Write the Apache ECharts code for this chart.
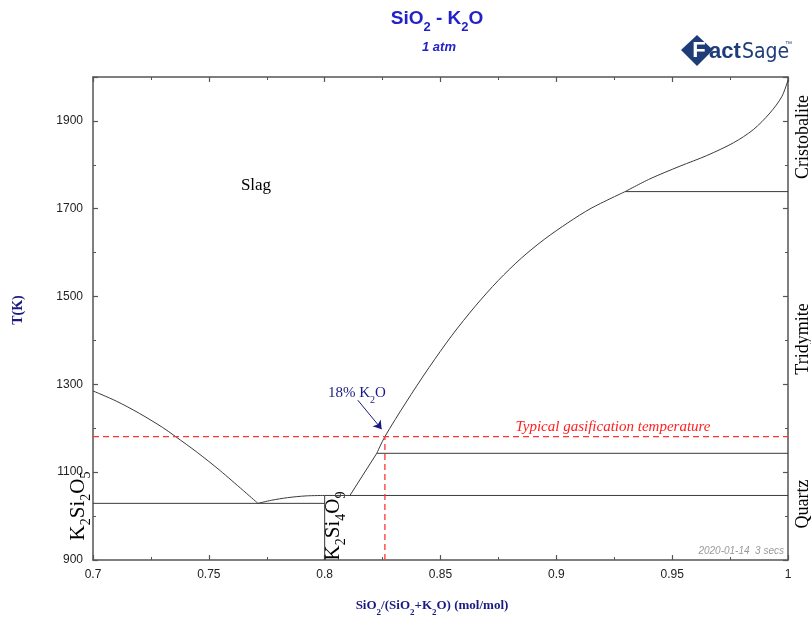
<!DOCTYPE html>
<html><head><meta charset="utf-8">
<script src="https://cdn.jsdelivr.net/npm/echarts@6/dist/echarts.min.js"></script>
<style>html,body{margin:0;padding:0;background:#fff}#c{width:811px;height:619px}</style>
</head><body><div id="c"></div>
<script>
// ---- data ----
const xTicks = [0.7, 0.75, 0.8, 0.85, 0.9, 0.95, 1];
const yTicks = [900, 1100, 1300, 1500, 1700, 1900];
const leftLiquidus = [[0.700,1285],[0.710,1262],[0.720,1234],[0.730,1202],[0.7354,1182],[0.745,1145],[0.755,1103],[0.7712,1029]];
const dome = [[0.7712,1029],[0.777,1036],[0.784,1042],[0.792,1046],[0.800,1047]];
const eutectic1 = [[0.7,1029],[0.8,1029]];
const k2si4o9 = [[0.8,900],[0.8,1047]];
const line1047 = [[0.8,1047],[1.0,1047]];
const quartzTridymite = [[0.8225,1143],[1.0,1143]];
const tridymiteCristobalite = [[0.9297,1739],[1.0,1739]];
const quartzLiquidus = [[0.8109,1047],[0.8225,1143]];
const tridymiteLiquidus = [[0.8225,1143],[0.826,1181],[0.835,1258],[0.845,1338],[0.855,1412],[0.865,1478],[0.875,1537],[0.885,1588],[0.895,1631],[0.905,1668],[0.915,1701],[0.9297,1739]];
const cristobaliteLiquidus = [[0.9297,1739],[0.9404,1768],[0.9534,1797],[0.9649,1821],[0.9764,1850],[0.9850,1880],[0.9922,1918],[0.9973,1955],[1.0,1993]];
const gasT = 1181;
const gasX = 0.826;
const arrow18 = [[0.8143,1264],[0.8246,1198]];

const navy = '#1a1a80';
const blue = '#2222c8';
const logoBlue = '#1d3c78';
const serif = '"Liberation Serif", "Times New Roman", serif';
const sans = '"Liberation Sans", Arial, sans-serif';
const lineColor = '#3a3a3a';

function seg(data, extra) {
  return Object.assign({type:'line', data, showSymbol:false, symbol:'none', animation:false,
    lineStyle:{color:lineColor, width:1}, xAxisIndex:0, yAxisIndex:0, z:3}, extra||{});
}
const curve = {smooth:0.3};

const chart = echarts.init(document.getElementById('c'), null, {renderer:'canvas'});
const axisLine = {show:true, lineStyle:{color:'#555', width:1.5}};
const baseX = {type:'value', min:0.7, max:1, splitLine:{show:false}};
const baseY = {type:'value', min:900, max:2000, splitLine:{show:false}};

const subRich = (size, color, weight, family) => ({
  n:{fontSize:size, fill:color, fontWeight:weight, fontFamily:family, lineHeight:size+4, verticalAlign:'middle'},
  s:{fontSize:Math.round(size*0.68), fill:color, fontWeight:weight, fontFamily:family, lineHeight:size+10, verticalAlign:'bottom'}
});

chart.setOption({
  animation:false,
  grid:{left:93, right:23, top:77, bottom:59},
  xAxis:[
    Object.assign({}, baseX, {position:'bottom', interval:0.05, axisLine,
      axisTick:{inside:true, length:5, lineStyle:{color:'#555', width:1.2}},
      axisLabel:{margin:9, color:'#222', fontSize:12, fontFamily:sans,
        formatter:v=>xTicks.some(t=>Math.abs(t-v)<1e-9)?String(+v.toFixed(2)):''}}),
    Object.assign({}, baseX, {position:'top', interval:0.05, axisLine,
      axisTick:{inside:true, length:5, lineStyle:{color:'#555', width:1.2}}, axisLabel:{show:false}}),
    Object.assign({}, baseX, {position:'bottom', interval:0.025, axisLine:{show:false},
      axisTick:{inside:true, length:3, lineStyle:{color:'#555', width:1}}, axisLabel:{show:false}}),
    Object.assign({}, baseX, {position:'top', interval:0.025, axisLine:{show:false},
      axisTick:{inside:true, length:3, lineStyle:{color:'#555', width:1}}, axisLabel:{show:false}})
  ],
  yAxis:[
    Object.assign({}, baseY, {position:'left', interval:200, axisLine,
      axisTick:{inside:true, length:5, lineStyle:{color:'#555', width:1.2}},
      axisLabel:{margin:10, color:'#222', fontSize:12, fontFamily:sans,
        formatter:v=>yTicks.indexOf(v)>=0?String(v):''}}),
    Object.assign({}, baseY, {position:'right', interval:200, axisLine,
      axisTick:{inside:true, length:5, lineStyle:{color:'#555', width:1.2}}, axisLabel:{show:false}}),
    Object.assign({}, baseY, {position:'left', interval:100, axisLine:{show:false},
      axisTick:{inside:true, length:3, lineStyle:{color:'#555', width:1}}, axisLabel:{show:false}}),
    Object.assign({}, baseY, {position:'right', interval:100, axisLine:{show:false},
      axisTick:{inside:true, length:3, lineStyle:{color:'#555', width:1}}, axisLabel:{show:false}})
  ],
  series:[
    seg(leftLiquidus, curve),
    seg(dome, curve),
    seg(eutectic1),
    seg(k2si4o9),
    seg(line1047),
    seg(quartzTridymite),
    seg(tridymiteCristobalite),
    seg(quartzLiquidus),
    seg(tridymiteLiquidus, curve),
    seg(cristobaliteLiquidus, curve),
    seg([[0.7,gasT],[1.0,gasT]], {lineStyle:{color:'#ff3535', width:1.3, type:[6,4]}, z:4}),
    seg([[gasX,900],[gasX,gasT]], {lineStyle:{color:'#ff3535', width:1.3, type:[6,4]}, z:4}),
    {type:'lines', coordinateSystem:'cartesian2d', xAxisIndex:0, yAxisIndex:0, animation:false,
     symbol:['none','arrow'], symbolSize:[0,8],
     lineStyle:{color:navy, width:1, opacity:1, curveness:0},
     data:[{coords:arrow18}], z:5}
  ],
  graphic:[
    {type:'text', x:437, y:19, style:{text:'{n|SiO}{s|2}{n| - K}{s|2}{n|O}', align:'center', verticalAlign:'middle',
      rich:subRich(19, blue, 'bold', sans)}},
    {type:'text', x:439, y:47, style:{text:'1 atm', align:'center', verticalAlign:'middle',
      fill:blue, font:'italic bold 13px '+sans}},
    // FactSage logo
    {type:'polygon', shape:{points:[[681,50],[697,35],[713,50],[697,66]]}, style:{fill:logoBlue}},
    {type:'text', x:699, y:51, style:{text:'F', align:'center', verticalAlign:'middle', fill:'#ffffff', font:'bold 22px '+sans}},
    {type:'text', x:709, y:52, style:{text:'act', align:'left', verticalAlign:'middle', fill:logoBlue, font:'bold 22px '+sans}},
    {type:'text', x:742, y:53, style:{text:'Sage', align:'left', verticalAlign:'middle', fill:logoBlue,
      font:'21px "Liberation Sans Narrow", "DejaVu Sans Condensed", sans-serif'}},
    {type:'text', x:785, y:44, style:{text:'™', align:'left', verticalAlign:'middle', fill:logoBlue, font:'7px '+sans}},
    {type:'text', x:256, y:186, style:{text:'Slag', align:'center', verticalAlign:'middle', fill:'#000', font:'17px '+serif}},
    {type:'text', x:78, y:506, rotation:Math.PI/2, style:{text:'{n|K}{s|2}{n|Si}{s|2}{n|O}{s|5}', align:'center', verticalAlign:'middle',
      rich:subRich(21, '#000', 'normal', serif)}},
    {type:'text', x:333, y:526, rotation:Math.PI/2, style:{text:'{n|K}{s|2}{n|Si}{s|4}{n|O}{s|9}', align:'center', verticalAlign:'middle',
      rich:subRich(21, '#000', 'normal', serif)}},
    {type:'text', x:357, y:393, style:{text:'{n|18% K}{s|2}{n|O}', align:'center', verticalAlign:'middle',
      rich:subRich(15, navy, 'normal', serif)}},
    {type:'text', x:613, y:427, style:{text:'Typical gasification temperature', align:'center', verticalAlign:'middle',
      fill:'#ff2020', font:'italic 15px '+serif}},
    {type:'text', x:784, y:551, style:{text:'2020-01-14  3 secs', align:'right', verticalAlign:'middle',
      fill:'#9a9a9a', font:'italic 10px '+sans}},
    {type:'text', x:803, y:137, rotation:Math.PI/2, style:{text:'Cristobalite', align:'center', verticalAlign:'middle', fill:'#000', font:'18px '+serif}},
    {type:'text', x:803, y:339, rotation:Math.PI/2, style:{text:'Tridymite', align:'center', verticalAlign:'middle', fill:'#000', font:'18px '+serif}},
    {type:'text', x:803, y:504, rotation:Math.PI/2, style:{text:'Quartz', align:'center', verticalAlign:'middle', fill:'#000', font:'18px '+serif}},
    {type:'text', x:18, y:310, rotation:Math.PI/2, style:{text:'T(K)', align:'center', verticalAlign:'middle', fill:navy, font:'bold 14px '+serif}},
    {type:'text', x:432, y:606, style:{text:'{n|SiO}{s|2}{n|/(SiO}{s|2}{n|+K}{s|2}{n|O) (mol/mol)}', align:'center', verticalAlign:'middle',
      rich:subRich(13, navy, 'bold', serif)}}
  ]
});
</script></body></html>
